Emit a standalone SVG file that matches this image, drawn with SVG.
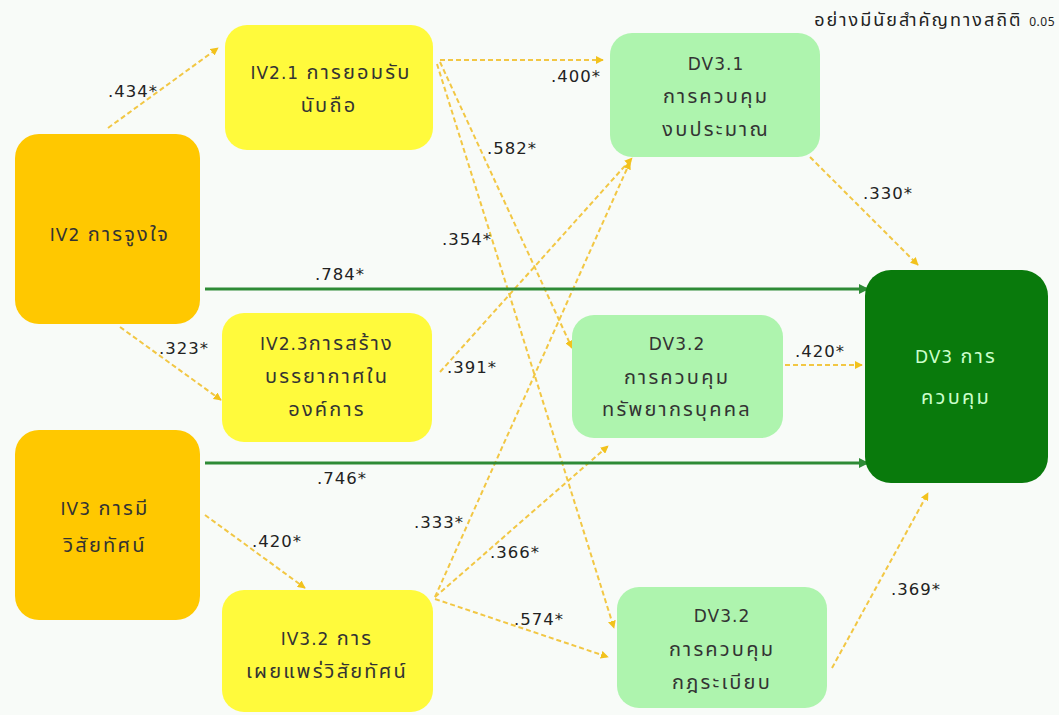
<svg xmlns="http://www.w3.org/2000/svg" width="1059" height="715" viewBox="0 0 1059 715">
<style>
text{font-family:"Noto Sans Thai","DejaVu Sans",sans-serif;font-size:20px;letter-spacing:2.2px;fill:#333;text-anchor:middle}
.lat{font-family:"DejaVu Sans",sans-serif;font-size:17px;letter-spacing:1px}
.lbl{font-family:"DejaVu Sans",sans-serif;font-size:16.5px;letter-spacing:1px;fill:#222}
.dash{stroke:#F2C744;stroke-width:2;stroke-dasharray:5 3;fill:none}
.solid{stroke:#2E8B36;stroke-width:3;fill:none}
.or{fill:#FFC800}
.ye{fill:#FFFA3C}
.lg{fill:#AEF4AE}
.dg{fill:#097A0C}
.wt{fill:#CCFFCC}
</style>
<defs>
<marker id="ay" viewBox="0 0 10 10" refX="9" refY="5" markerWidth="8" markerHeight="8" markerUnits="userSpaceOnUse" orient="auto"><path d="M0,0L10,5L0,10z" fill="#F2C21C"/></marker>
<marker id="ag" viewBox="0 0 10 10" refX="9" refY="5" markerWidth="10" markerHeight="10" markerUnits="userSpaceOnUse" orient="auto"><path d="M0,0L10,5L0,10z" fill="#2E8B36"/></marker>
</defs>
<rect width="1059" height="715" fill="#F8FBF8"/>
<g id="connectors">
<line class="dash" x1="108" y1="128" x2="218" y2="48" marker-end="url(#ay)"/>
<line class="dash" x1="440" y1="60" x2="603" y2="60" marker-end="url(#ay)"/>
<line class="dash" x1="440" y1="62" x2="572" y2="348" marker-end="url(#ay)"/>
<line class="dash" x1="437" y1="64" x2="614" y2="628" marker-end="url(#ay)"/>
<line class="dash" x1="440" y1="372" x2="632" y2="158" marker-end="url(#ay)"/>
<line class="dash" x1="435" y1="597" x2="630" y2="162" marker-end="url(#ay)"/>
<line class="dash" x1="435" y1="597" x2="608" y2="446" marker-end="url(#ay)"/>
<line class="dash" x1="435" y1="599" x2="608" y2="657" marker-end="url(#ay)"/>
<line class="dash" x1="120" y1="327" x2="221" y2="400" marker-end="url(#ay)"/>
<line class="dash" x1="205" y1="515" x2="305" y2="588" marker-end="url(#ay)"/>
<line class="dash" x1="810" y1="157" x2="918" y2="265" marker-end="url(#ay)"/>
<line class="dash" x1="785" y1="365" x2="862" y2="365" marker-end="url(#ay)"/>
<line class="dash" x1="832" y1="668" x2="928" y2="493" marker-end="url(#ay)"/>
<line class="solid" x1="205" y1="289" x2="868" y2="289" marker-end="url(#ag)"/>
<line class="solid" x1="205" y1="463" x2="868" y2="463" marker-end="url(#ag)"/>
<text class="lbl" x="133" y="97">.434*</text>
<text class="lbl" x="576" y="82">.400*</text>
<text class="lbl" x="512" y="154">.582*</text>
<text class="lbl" x="467" y="245">.354*</text>
<text class="lbl" x="340" y="280">.784*</text>
<text class="lbl" x="184" y="354">.323*</text>
<text class="lbl" x="472" y="373">.391*</text>
<text class="lbl" x="820" y="357">.420*</text>
<text class="lbl" x="888" y="199">.330*</text>
<text class="lbl" x="342" y="484">.746*</text>
<text class="lbl" x="277" y="547">.420*</text>
<text class="lbl" x="439" y="528">.333*</text>
<text class="lbl" x="515" y="558">.366*</text>
<text class="lbl" x="539" y="625">.574*</text>
<text class="lbl" x="916" y="595">.369*</text>
</g>
<g id="IV2"><rect class="or" x="15" y="134" width="185" height="190" rx="24"/><text x="110" y="241"><tspan class="lat">IV2</tspan> การจูงใจ</text></g>
<g id="IV3"><rect class="or" x="15" y="430" width="185" height="190" rx="24"/><text x="105" y="515"><tspan class="lat">IV3</tspan> การมี</text><text x="105" y="552">วิสัยทัศน์</text></g>
<g id="IV2_1"><rect class="ye" x="225" y="25" width="208" height="125" rx="22"/><text x="331" y="79"><tspan class="lat">IV2.1</tspan> การยอมรับ</text><text x="329" y="112">นับถือ</text></g>
<g id="IV2_3"><rect class="ye" x="222" y="313" width="210" height="129" rx="22"/><text x="327" y="350"><tspan class="lat">IV2.3</tspan>การสร้าง</text><text x="327" y="383">บรรยากาศใน</text><text x="327" y="416">องค์การ</text></g>
<g id="IV3_2"><rect class="ye" x="222" y="590" width="211" height="122" rx="22"/><text x="327" y="645"><tspan class="lat">IV3.2</tspan> การ</text><text x="327" y="678">เผยแพร่วิสัยทัศน์</text></g>
<g id="DV3_1"><rect class="lg" x="610" y="33" width="210" height="124" rx="22"/><text x="716" y="70" class="lat">DV3.1</text><text x="716" y="103">การควบคุม</text><text x="716" y="136">งบประมาณ</text></g>
<g id="DV3_2a"><rect class="lg" x="572" y="315" width="211" height="123" rx="22"/><text x="677" y="350" class="lat">DV3.2</text><text x="677" y="384">การควบคุม</text><text x="677" y="416">ทรัพยากรบุคคล</text></g>
<g id="DV3_2b"><rect class="lg" x="617" y="587" width="210" height="121" rx="22"/><text x="722" y="622" class="lat">DV3.2</text><text x="722" y="656">การควบคุม</text><text x="722" y="689">กฎระเบียบ</text></g>
<g id="DV3"><rect class="dg" x="865" y="270" width="183" height="213" rx="26"/><text x="956" y="363" class="wt"><tspan class="lat">DV3</tspan> การ</text><text x="956" y="404" class="wt">ควบคุม</text></g>
<g id="note"><text x="1055" y="26" style="text-anchor:end;font-size:18px;letter-spacing:2px;fill:#222">อย่างมีนัยสำคัญทางสถิติ <tspan style="font-size:12px;letter-spacing:0.5px">0.05</tspan></text></g>
</svg>
